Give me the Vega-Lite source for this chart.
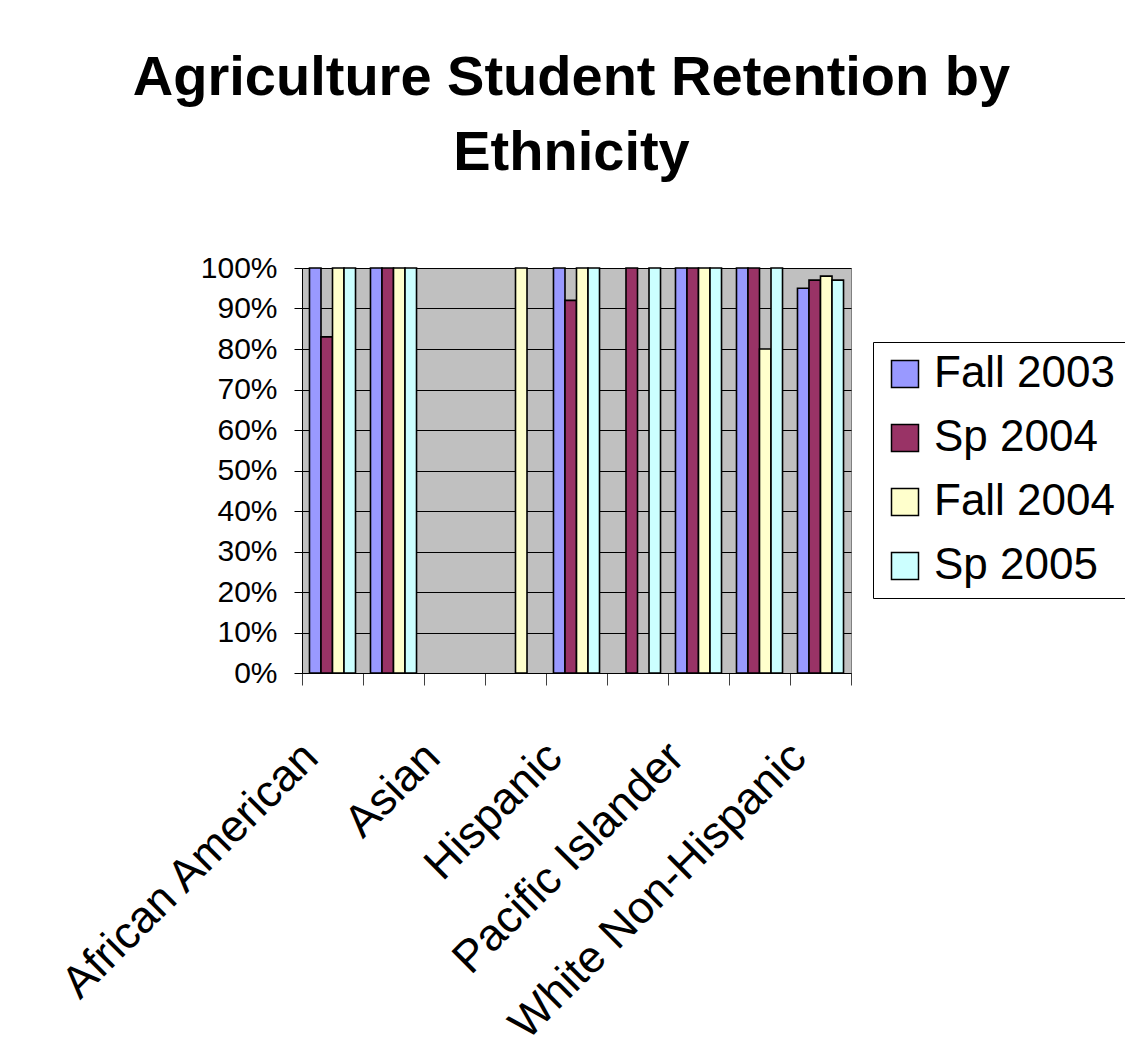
{
  "$schema": "https://vega.github.io/schema/vega-lite/v6.json",
  "autosize": {"type": "none"},
  "width": 549,
  "height": 405,
  "padding": {"left": 302, "top": 268, "right": 274, "bottom": 388},
  "background": "white",
  "config": {
    "font": "Liberation Sans",
    "view": {"fill": "#C0C0C0", "stroke": "#808080", "strokeWidth": 1}
  },
  "title": {
    "text": ["Agriculture Student Retention by", "Ethnicity"],
    "fontSize": 56,
    "fontWeight": "bold",
    "font": "Liberation Sans",
    "color": "black",
    "lineHeight": 75,
    "anchor": "middle",
    "frame": "group",
    "dx": -5,
    "offset": 71
  },
  "data": {
    "values": [
      {"ethnicity": "African American", "term": "Fall 2003", "retention": 1.00},
      {"ethnicity": "African American", "term": "Sp 2004", "retention": 0.83},
      {"ethnicity": "African American", "term": "Fall 2004", "retention": 1.00},
      {"ethnicity": "African American", "term": "Sp 2005", "retention": 1.00},
      {"ethnicity": "American Indian", "term": "Fall 2003", "retention": 1.00},
      {"ethnicity": "American Indian", "term": "Sp 2004", "retention": 1.00},
      {"ethnicity": "American Indian", "term": "Fall 2004", "retention": 1.00},
      {"ethnicity": "American Indian", "term": "Sp 2005", "retention": 1.00},
      {"ethnicity": "Filipino", "term": "Fall 2004", "retention": 1.00},
      {"ethnicity": "Hispanic", "term": "Fall 2003", "retention": 1.00},
      {"ethnicity": "Hispanic", "term": "Sp 2004", "retention": 0.92},
      {"ethnicity": "Hispanic", "term": "Fall 2004", "retention": 1.00},
      {"ethnicity": "Hispanic", "term": "Sp 2005", "retention": 1.00},
      {"ethnicity": "Other", "term": "Sp 2004", "retention": 1.00},
      {"ethnicity": "Other", "term": "Sp 2005", "retention": 1.00},
      {"ethnicity": "Pacific Islander", "term": "Fall 2003", "retention": 1.00},
      {"ethnicity": "Pacific Islander", "term": "Sp 2004", "retention": 1.00},
      {"ethnicity": "Pacific Islander", "term": "Fall 2004", "retention": 1.00},
      {"ethnicity": "Pacific Islander", "term": "Sp 2005", "retention": 1.00},
      {"ethnicity": "Unknown", "term": "Fall 2003", "retention": 1.00},
      {"ethnicity": "Unknown", "term": "Sp 2004", "retention": 1.00},
      {"ethnicity": "Unknown", "term": "Fall 2004", "retention": 0.80},
      {"ethnicity": "Unknown", "term": "Sp 2005", "retention": 1.00},
      {"ethnicity": "White Non-Hispanic", "term": "Fall 2003", "retention": 0.95},
      {"ethnicity": "White Non-Hispanic", "term": "Sp 2004", "retention": 0.97},
      {"ethnicity": "White Non-Hispanic", "term": "Fall 2004", "retention": 0.98},
      {"ethnicity": "White Non-Hispanic", "term": "Sp 2005", "retention": 0.97}
    ]
  },
  "mark": {"type": "bar", "stroke": "black", "strokeWidth": 1.6},
  "encoding": {
    "x": {
      "field": "ethnicity",
      "type": "nominal",
      "sort": null,
      "scale": {
        "domain": ["African American", "American Indian", "Asian", "Filipino", "Hispanic", "Other", "Pacific Islander", "Unknown", "White Non-Hispanic"],
        "paddingInner": 0,
        "paddingOuter": 0
      },
      "axis": {
        "title": null,
        "tickBand": "extent",
        "labelAngle": -45,
        "labelAlign": "right",
        "labelBaseline": "top",
        "labelFontSize": 45,
        "labelColor": "black",
        "labelLimit": 2000,
        "labelPadding": 49,
        "labelOffset": -38,
        "labelOverlap": false,
        "labelBound": false,
        "labelFlush": false,
        "labelExpr": "indexof(['African American', 'Asian', 'Hispanic', 'Pacific Islander', 'White Non-Hispanic'], datum.value) >= 0 ? datum.value : ''",
        "tickSize": 12,
        "tickColor": "#404040",
        "domainColor": "black",
        "grid": false
      }
    },
    "xOffset": {
      "field": "term",
      "type": "nominal",
      "sort": ["Fall 2003", "Sp 2004", "Fall 2004", "Sp 2005"],
      "scale": {"domain": ["Fall 2003", "Sp 2004", "Fall 2004", "Sp 2005"], "paddingInner": 0, "paddingOuter": 0.65}
    },
    "y": {
      "field": "retention",
      "type": "quantitative",
      "scale": {"domain": [0, 1], "nice": false},
      "axis": {
        "title": null,
        "format": ".0%",
        "values": [0, 0.1, 0.2, 0.3, 0.4, 0.5, 0.6, 0.7, 0.8, 0.9, 1],
        "labelFontSize": 30,
        "labelColor": "black",
        "labelPadding": 17,
        "tickSize": 8,
        "tickColor": "black",
        "domainColor": "black",
        "grid": true,
        "gridColor": "black",
        "gridOpacity": 1,
        "gridWidth": 1
      }
    },
    "color": {
      "field": "term",
      "type": "nominal",
      "sort": ["Fall 2003", "Sp 2004", "Fall 2004", "Sp 2005"],
      "scale": {
        "domain": ["Fall 2003", "Sp 2004", "Fall 2004", "Sp 2005"],
        "range": ["#9999FF", "#993366", "#FFFFCC", "#CCFFFF"]
      },
      "legend": {
        "title": null,
        "orient": "none",
        "legendX": 571,
        "legendY": 74,
        "symbolType": "square",
        "symbolSize": 729,
        "symbolStrokeColor": "black",
        "symbolStrokeWidth": 1.5,
        "symbolOpacity": 1,
        "labelFontSize": 44,
        "labelColor": "black",
        "labelLimit": 2000,
        "labelOffset": 7,
        "rowPadding": 20,
        "padding": 10,
        "strokeColor": "black",
        "fillColor": "white"
      }
    }
  }
}
